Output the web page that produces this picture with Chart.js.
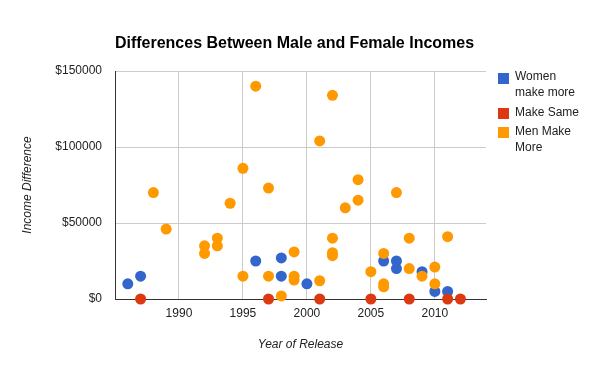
<!DOCTYPE html>
<html>
<head>
<meta charset="utf-8">
<script src="https://cdn.jsdelivr.net/npm/chart.js@4.4.1/dist/chart.umd.min.js"></script>
<style>
html,body{margin:0;padding:0;background:#fff;}
#wrap{position:relative;width:600px;height:371px;}
</style>
</head>
<body>
<div id="wrap"><canvas id="c" width="600" height="371"></canvas></div>
<script>
// ---- data ----
const chartTitle = "Differences Between Male and Female Incomes";
const xAxisTitle = "Year of Release";
const yAxisTitle = "Income Difference";
const seriesNames = ["Women make more", "Make Same", "Men Make More"];
const seriesColors = ["#3366cc", "#dc3912", "#ff9900"];

const womenYears  = [1986, 1987, 1996, 1998, 1998, 2000, 2006, 2007, 2007, 2009, 2010, 2011];
const womenValues = [10000, 15000, 25000, 27000, 15000, 10000, 25000, 25000, 20000, 18000, 5000, 5000];

const sameYears  = [1987, 1997, 2001, 2005, 2008, 2011, 2012];
const sameValues = [0, 0, 0, 0, 0, 0, 0];

const menYears  = [1988, 1989, 1992, 1992, 1993, 1993, 1994, 1995, 1995, 1996, 1997, 1997, 1998,
                   1999, 1999, 1999, 2001, 2001, 2002, 2002, 2002, 2002, 2003, 2004, 2004, 2005,
                   2006, 2006, 2006, 2007, 2008, 2008, 2009, 2010, 2010, 2011];
const menValues = [70000, 46000, 35000, 30000, 40000, 35000, 63000, 86000, 15000, 140000, 73000, 15000, 2000,
                   31000, 15000, 12500, 104000, 12000, 134000, 40000, 30500, 28500, 60000, 78500, 65000, 18000,
                   30000, 10000, 8000, 70000, 40000, 20000, 15000, 21000, 10000, 41000];

const xTicks = [1990, 1995, 2000, 2005, 2010];
const yTicks = [0, 50000, 100000, 150000];
const xMin = 1985, xMax = 2014, yMin = 0, yMax = 150000;

// ---- chart ----
const FONT = '"Liberation Sans", Arial, sans-serif';
const toPoints = (xs, ys) => xs.map((x, i) => ({x: x, y: ys[i]}));

const titlePlugin = {
  id: 'customTitle',
  afterDraw(chart) {
    const ctx = chart.ctx;
    ctx.save();
    ctx.font = 'bold 16px ' + FONT;
    ctx.fillStyle = '#000';
    ctx.textAlign = 'center';
    ctx.textBaseline = 'middle';
    ctx.fillText(chartTitle, 294.5, 44);
    ctx.restore();
  }
};

function wrapText(ctx, text, maxW) {
  const words = text.split(' ');
  const lines = [];
  let cur = '';
  words.forEach(w => {
    const t = cur ? cur + ' ' + w : w;
    if (cur && ctx.measureText(t).width > maxW) { lines.push(cur); cur = w; }
    else cur = t;
  });
  if (cur) lines.push(cur);
  return lines;
}

const legendPlugin = {
  id: 'customLegend',
  afterDraw(chart) {
    const ctx = chart.ctx;
    ctx.save();
    ctx.font = '12px ' + FONT;
    ctx.textBaseline = 'middle';
    ctx.textAlign = 'left';
    let y = 77;
    seriesNames.forEach((name, i) => {
      ctx.fillStyle = seriesColors[i];
      ctx.fillRect(498, Math.round(y - 4.5), 11, 11);
      ctx.fillStyle = '#222';
      const lines = wrapText(ctx, name, 70);
      lines.forEach((ln, j) => ctx.fillText(ln, 515, y + j * 16));
      y += (lines.length - 1) * 16 + 19.3;
    });
    ctx.restore();
  }
};

const tickFont = {family: FONT, size: 12};
const titleFont = {family: FONT, size: 12, style: 'italic'};

new Chart(document.getElementById('c'), {
  type: 'scatter',
  data: {
    datasets: [
      {label: seriesNames[0], data: toPoints(womenYears, womenValues), backgroundColor: seriesColors[0], order: 2},
      {label: seriesNames[1], data: toPoints(sameYears, sameValues), backgroundColor: seriesColors[1], order: 1},
      {label: seriesNames[2], data: toPoints(menYears, menValues), backgroundColor: seriesColors[2], order: 0}
    ].map(d => Object.assign(d, {pointRadius: 5.5, pointBorderWidth: 0, borderWidth: 0, pointHoverRadius: 5.5, clip: false}))
  },
  options: {
    responsive: false,
    animation: false,
    devicePixelRatio: 1,
    layout: {padding: {top: 71, right: 114, left: 0, bottom: 0}},
    plugins: {legend: {display: false}, title: {display: false}, tooltip: {enabled: false}},
    scales: {
      x: {
        type: 'linear', min: xMin, max: xMax,
        afterBuildTicks: s => { s.ticks = xTicks.map(v => ({value: v})); },
        afterFit: s => { s.height = 72; },
        ticks: {font: tickFont, color: '#222', padding: 7, maxRotation: 0, callback: v => String(v)},
        grid: {color: '#cccccc', drawTicks: false},
        border: {color: '#333333', width: 1},
        title: {display: true, text: xAxisTitle, font: titleFont, color: '#222', padding: {top: 0, bottom: 19}}
      },
      y: {
        type: 'linear', min: yMin, max: yMax,
        afterBuildTicks: s => { s.ticks = yTicks.map(v => ({value: v})); },
        afterFit: s => { s.width = 115; },
        ticks: {font: tickFont, color: '#222', padding: 13, callback: v => '$' + v},
        grid: {color: ctx => (ctx.tick && ctx.tick.value === 0) ? 'rgba(0,0,0,0)' : '#cccccc', drawTicks: false},
        border: {color: '#333333', width: 1},
        title: {display: true, text: yAxisTitle, font: titleFont, color: '#222', padding: {top: 20, bottom: 0}}
      }
    }
  },
  plugins: [titlePlugin, legendPlugin]
});
</script>
</body>
</html>
